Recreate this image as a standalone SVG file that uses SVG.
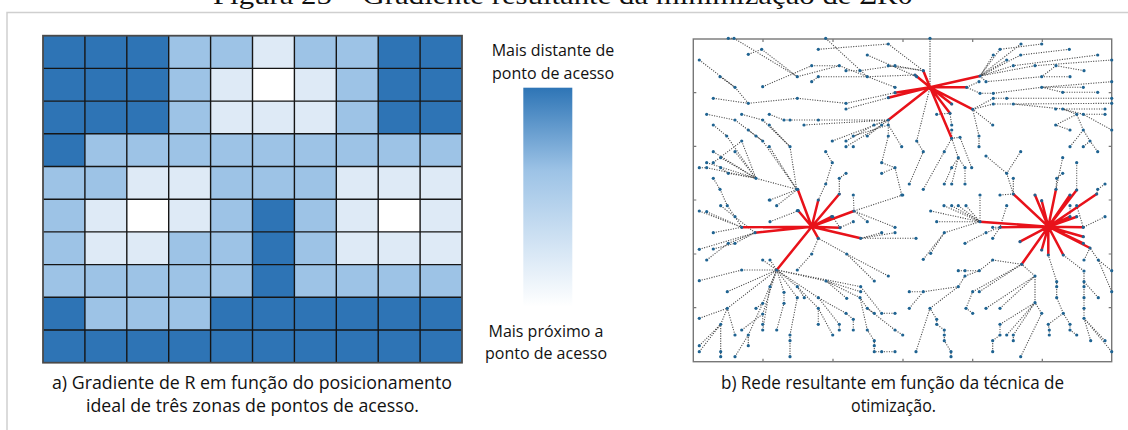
<svg xmlns="http://www.w3.org/2000/svg" width="1128" height="430" viewBox="0 0 1128 430">
<style>
.d{fill:#2E74B5}.m{fill:#9DC3E6}.l{fill:#DEEAF6}.w{fill:#FFFFFF}
.lbl{font-family:"Open Sans","Noto Sans",sans-serif;font-size:16px;fill:#111;text-anchor:middle}
.cap{font-family:"Open Sans","Noto Sans",sans-serif;font-size:18.5px;fill:#111}
.edge{fill:none;stroke:#4a4a4a;stroke-width:1.1;stroke-dasharray:1.1 1.4}
.spk{fill:none;stroke:#E8121A;stroke-width:2.5;stroke-linecap:round}
.dots circle{fill:#1F6391}
</style>
<defs>
<linearGradient id="grad" x1="0" y1="0" x2="0" y2="1">
<stop offset="0" stop-color="#2E75B6"/>
<stop offset="0.38" stop-color="#9DC3E6"/>
<stop offset="1" stop-color="#FFFFFF"/>
</linearGradient>
</defs>
<rect width="1128" height="430" fill="#fff"/>
<text x="213" y="4" font-family="Liberation Serif,serif" font-size="26" textLength="700" lengthAdjust="spacingAndGlyphs" fill="#111">Figura 25 – Gradiente resultante da minimização de ΣR0</text>
<path d="M7 430V12.5H1128" fill="none" stroke="#cfcfcf" stroke-width="1.5"/>

<g id="grid">
<rect class="d" x="43" y="35.7" width="41.9" height="32.7"/><rect class="d" x="84.9" y="35.7" width="41.9" height="32.7"/><rect class="d" x="126.8" y="35.7" width="41.9" height="32.7"/><rect class="m" x="168.7" y="35.7" width="41.9" height="32.7"/><rect class="m" x="210.6" y="35.7" width="41.9" height="32.7"/><rect class="l" x="252.5" y="35.7" width="41.9" height="32.7"/><rect class="m" x="294.4" y="35.7" width="41.9" height="32.7"/><rect class="m" x="336.3" y="35.7" width="41.9" height="32.7"/><rect class="d" x="378.2" y="35.7" width="41.9" height="32.7"/><rect class="d" x="420.1" y="35.7" width="41.9" height="32.7"/>
<rect class="d" x="43" y="68.4" width="41.9" height="32.7"/><rect class="d" x="84.9" y="68.4" width="41.9" height="32.7"/><rect class="d" x="126.8" y="68.4" width="41.9" height="32.7"/><rect class="m" x="168.7" y="68.4" width="41.9" height="32.7"/><rect class="l" x="210.6" y="68.4" width="41.9" height="32.7"/><rect class="w" x="252.5" y="68.4" width="41.9" height="32.7"/><rect class="l" x="294.4" y="68.4" width="41.9" height="32.7"/><rect class="m" x="336.3" y="68.4" width="41.9" height="32.7"/><rect class="d" x="378.2" y="68.4" width="41.9" height="32.7"/><rect class="d" x="420.1" y="68.4" width="41.9" height="32.7"/>
<rect class="d" x="43" y="101.1" width="41.9" height="32.7"/><rect class="d" x="84.9" y="101.1" width="41.9" height="32.7"/><rect class="d" x="126.8" y="101.1" width="41.9" height="32.7"/><rect class="m" x="168.7" y="101.1" width="41.9" height="32.7"/><rect class="l" x="210.6" y="101.1" width="41.9" height="32.7"/><rect class="l" x="252.5" y="101.1" width="41.9" height="32.7"/><rect class="l" x="294.4" y="101.1" width="41.9" height="32.7"/><rect class="m" x="336.3" y="101.1" width="41.9" height="32.7"/><rect class="d" x="378.2" y="101.1" width="41.9" height="32.7"/><rect class="d" x="420.1" y="101.1" width="41.9" height="32.7"/>
<rect class="d" x="43" y="133.8" width="41.9" height="32.7"/><rect class="m" x="84.9" y="133.8" width="41.9" height="32.7"/><rect class="m" x="126.8" y="133.8" width="41.9" height="32.7"/><rect class="m" x="168.7" y="133.8" width="41.9" height="32.7"/><rect class="m" x="210.6" y="133.8" width="41.9" height="32.7"/><rect class="m" x="252.5" y="133.8" width="41.9" height="32.7"/><rect class="m" x="294.4" y="133.8" width="41.9" height="32.7"/><rect class="m" x="336.3" y="133.8" width="41.9" height="32.7"/><rect class="m" x="378.2" y="133.8" width="41.9" height="32.7"/><rect class="m" x="420.1" y="133.8" width="41.9" height="32.7"/>
<rect class="m" x="43" y="166.5" width="41.9" height="32.7"/><rect class="m" x="84.9" y="166.5" width="41.9" height="32.7"/><rect class="l" x="126.8" y="166.5" width="41.9" height="32.7"/><rect class="l" x="168.7" y="166.5" width="41.9" height="32.7"/><rect class="m" x="210.6" y="166.5" width="41.9" height="32.7"/><rect class="m" x="252.5" y="166.5" width="41.9" height="32.7"/><rect class="m" x="294.4" y="166.5" width="41.9" height="32.7"/><rect class="l" x="336.3" y="166.5" width="41.9" height="32.7"/><rect class="l" x="378.2" y="166.5" width="41.9" height="32.7"/><rect class="l" x="420.1" y="166.5" width="41.9" height="32.7"/>
<rect class="m" x="43" y="199.2" width="41.9" height="32.7"/><rect class="l" x="84.9" y="199.2" width="41.9" height="32.7"/><rect class="w" x="126.8" y="199.2" width="41.9" height="32.7"/><rect class="l" x="168.7" y="199.2" width="41.9" height="32.7"/><rect class="m" x="210.6" y="199.2" width="41.9" height="32.7"/><rect class="d" x="252.5" y="199.2" width="41.9" height="32.7"/><rect class="m" x="294.4" y="199.2" width="41.9" height="32.7"/><rect class="l" x="336.3" y="199.2" width="41.9" height="32.7"/><rect class="w" x="378.2" y="199.2" width="41.9" height="32.7"/><rect class="l" x="420.1" y="199.2" width="41.9" height="32.7"/>
<rect class="m" x="43" y="231.9" width="41.9" height="32.7"/><rect class="l" x="84.9" y="231.9" width="41.9" height="32.7"/><rect class="l" x="126.8" y="231.9" width="41.9" height="32.7"/><rect class="m" x="168.7" y="231.9" width="41.9" height="32.7"/><rect class="m" x="210.6" y="231.9" width="41.9" height="32.7"/><rect class="d" x="252.5" y="231.9" width="41.9" height="32.7"/><rect class="m" x="294.4" y="231.9" width="41.9" height="32.7"/><rect class="l" x="336.3" y="231.9" width="41.9" height="32.7"/><rect class="l" x="378.2" y="231.9" width="41.9" height="32.7"/><rect class="l" x="420.1" y="231.9" width="41.9" height="32.7"/>
<rect class="m" x="43" y="264.6" width="41.9" height="32.7"/><rect class="m" x="84.9" y="264.6" width="41.9" height="32.7"/><rect class="m" x="126.8" y="264.6" width="41.9" height="32.7"/><rect class="m" x="168.7" y="264.6" width="41.9" height="32.7"/><rect class="m" x="210.6" y="264.6" width="41.9" height="32.7"/><rect class="d" x="252.5" y="264.6" width="41.9" height="32.7"/><rect class="m" x="294.4" y="264.6" width="41.9" height="32.7"/><rect class="m" x="336.3" y="264.6" width="41.9" height="32.7"/><rect class="m" x="378.2" y="264.6" width="41.9" height="32.7"/><rect class="m" x="420.1" y="264.6" width="41.9" height="32.7"/>
<rect class="d" x="43" y="297.3" width="41.9" height="32.7"/><rect class="m" x="84.9" y="297.3" width="41.9" height="32.7"/><rect class="m" x="126.8" y="297.3" width="41.9" height="32.7"/><rect class="m" x="168.7" y="297.3" width="41.9" height="32.7"/><rect class="d" x="210.6" y="297.3" width="41.9" height="32.7"/><rect class="d" x="252.5" y="297.3" width="41.9" height="32.7"/><rect class="d" x="294.4" y="297.3" width="41.9" height="32.7"/><rect class="d" x="336.3" y="297.3" width="41.9" height="32.7"/><rect class="d" x="378.2" y="297.3" width="41.9" height="32.7"/><rect class="d" x="420.1" y="297.3" width="41.9" height="32.7"/>
<rect class="d" x="43" y="330" width="419" height="32.7"/>
<path d="M84.9 35.7V362.7M126.8 35.7V362.7M168.7 35.7V362.7M210.6 35.7V362.7M252.5 35.7V362.7M294.4 35.7V362.7M336.3 35.7V362.7M378.2 35.7V362.7M420.1 35.7V362.7M43 68.4H462M43 101.1H462M43 133.8H462M43 166.5H462M43 199.2H462M43 231.9H462M43 264.6H462M43 297.3H462M43 330H462" stroke="#151515" stroke-width="1.4" fill="none"/>
<rect x="43" y="35.7" width="419" height="327" fill="none" stroke="#4a4a4a" stroke-width="1.8"/>
</g>

<g id="legend">
<text class="lbl" x="553" y="56">Mais distante de</text>
<text class="lbl" x="553" y="79">ponto de acesso</text>
<rect x="523.3" y="87.7" width="49" height="219" fill="url(#grad)"/>
<text class="lbl" x="546" y="337">Mais próximo a</text>
<text class="lbl" x="546" y="359">ponto de acesso</text>
</g>

<g id="captions">
<text class="cap" x="52" y="389" textLength="400" lengthAdjust="spacingAndGlyphs">a) Gradiente de R em função do posicionamento</text>
<text class="cap" x="86" y="412" textLength="333" lengthAdjust="spacingAndGlyphs">ideal de três zonas de pontos de acesso.</text>
<text class="cap" x="721" y="389" textLength="343" lengthAdjust="spacingAndGlyphs">b) Rede resultante em função da técnica de</text>
<text class="cap" x="851" y="412" textLength="85" lengthAdjust="spacingAndGlyphs">otimização.</text>
</g>

<g id="network">
<rect x="693.3" y="39" width="418.4" height="322.7" fill="#fff" stroke="#777" stroke-width="1.4"/>
<path d="M763 361.7v-3M833 361.7v-3M903 361.7v-3M972.7 361.7v-3M1042.3 361.7v-3M763 39v3M833 39v3M903 39v3M972.7 39v3M1042.3 39v3M693.3 92.7h3M693.3 146.4h3M693.3 200h3M693.3 254h3M693.3 307.7h3M1111.7 92.7h-3M1111.7 146.4h-3M1111.7 200h-3M1111.7 254h-3M1111.7 307.7h-3" stroke="#777" stroke-width="1.2" fill="none"/>
<g id="connectors">
<path class="edge" d="M728.3 38.3L734 38.3M734 38.3L797.3 76.7M748.3 54.3L761.7 49.3M761.7 49.3L797.3 76.7M699.3 60L735 87.3M720 76.7L735 87.3M735 87.3L748.3 103.3M797.3 76.7L839.3 65.7M839.3 65.7L895 87.3M762.7 86.7L811.7 65.7M811.7 65.7L839.3 65.7M818.3 49.3L888.3 44M888.3 44L923.3 70.7M825.7 38.3L867.3 76.7M867.3 76.7L915 75M811.7 81.7L818.3 76.7M818.3 76.7L867.3 76.7M846 70.7L860 70.7M860 70.7L895 65.7M888.3 65.7L923.3 70.7M895 65.7L923.3 70.7M867.3 55L916.7 76.7M930 38.3L930 87.3M797.3 98.3L846 103.3M846 103.3L895 92.7M748.3 103.3L797.3 98.3M713.3 98.3L748.3 103.3M846 109L888.3 97.7M769.3 114.3L784 120M784 120L888.3 120M804 125L888.3 120M832.3 141L888.3 120M846 141L874 125M874 125L888.3 120M846 146.7L881.7 125M853.3 136L888.3 125M867.3 136L888.3 120M901.7 146.7L888.3 125M916.7 141L930 87.3M923.3 151.7L916.7 141M901.7 195L895 167.7M895 167.7L881.7 162.7M881.7 162.7L888.3 136M888.3 136L888.3 120M881.7 173.3L895 167.7M909.3 184L923.3 151.7M923.3 189.3L944.3 151.7M944.3 151.7L951.7 138.3M936.7 114.3L950 113.3M951.7 125L950 113.3M951.7 130L951.7 138.3M960 137.3L951.7 138.3M958.3 157.7L951.7 138.3M951.7 167.7L958.3 157.7M965 167.7L958.3 157.7M971.7 167.7L960 137.3M951.7 184L958.3 157.7M944.3 184L951.7 167.7M965 184L965 167.7M979 136L972.7 109.3M979 146.7L979 136M992.7 125L972.7 109.3"/>
<path class="edge" d="M1021 44L980 76M1041.7 44L1000 49.3M1000 49.3L980 76M993.3 55L980 76M1069.3 49.3L1020.7 55M1020.7 55L980 76M1097.7 55L1013.3 65.7M1013.3 65.7L980 76M1111.7 60L1035 65.7M1035 65.7L980 76M1006.7 60L980 76M1056 65.7L1041.7 76.7M1041.7 76.7L986 81.7M986 81.7L980 76M1070 76.7L1041.7 76.7M1084 70.7L1056 65.7M979 81.7L966.7 87.3M980 93.3L966.7 87.3M993.3 93.3L980 93.3M1111.7 81.7L1041.7 87.3M1041.7 87.3L993.3 93.3M1083.3 87.3L1041.7 87.3M1097.7 92.3L1062.7 92.3M1062.7 92.3L1041.7 87.3M993.3 98.3L972.7 109.3M1006.7 98.3L993.3 98.3M1111.7 98.3L1006.7 98.3M1111.7 103.3L1013.3 104M1013.3 104L993.3 104M993.3 104L972.7 109.3M1105 109L1062.7 109M1062.7 109L1013.3 104M1105 114.3L1083.3 114.3M1083.3 114.3L1062.7 109M1076.7 114.3L1062.7 109M1055.7 125L1076.7 114.3M1070 130L1055.7 125M1083.3 130L1076.7 114.3M1111.7 130L1083.3 114.3M1090 141L1083.3 130M1083.3 146.7L1090 141M1097.7 151.7L1090 141M1070 146.7L1083.3 130M1062.7 157.7L1056 189.3M1076.7 162.7L1076.7 190M1097.7 189.3L1096.7 194M1105 184L1097.7 189.3M1056.7 178.3L1056 189.3M1062.7 173.3L1056.7 178.3M1020.7 151.7L1006.7 173.3M1006.7 173.3L1013.3 194M1013.3 178.3L1013.3 194M986 156L1006.7 173.3M980 195L980 221.7M1000 195L1013.3 194"/>
<path class="edge" d="M706.7 114.3L735 120M735 120L762.7 141M713.3 125L726.7 136M726.7 136L756 178.3M741.7 114.3L762.7 120M762.7 120L790 146.7M790 146.7L796.7 189.3M769.3 125L790 146.7M741.7 141L756 178.3M762.7 141L796.7 189.3M756 136L762.7 141M748.3 130L756 136M769.3 146.7L796.7 189.3M713.3 151.7L756 178.3M735 151.7L756 178.3M720.7 157.7L756 178.3M706.7 162.7L756 178.3M713.3 162.7L741.7 141M699.3 167.7L706.7 167.7M706.7 167.7L756 178.3M720.7 167.7L728.3 173.3M728.3 173.3L756 178.3M756 178.3L796.7 189.3M713.3 178.3L720 189.3M720 189.3L727.3 205.7M699.3 211L741.7 227.3M706.7 211.7L741.7 227.3M713.3 232.7L741.7 227.3M720.7 205.7L755 232.7M727.3 205.7L735 216.7M735 216.7L741.7 227.3M699.3 249.3L755 232.7M706.7 260L728.3 243.3M728.3 243.3L755 232.7M713.3 249L735 243.3M735 243.3L755 232.7M741.7 270L776.7 270M762.7 260L776.7 270M770 260L776.7 270M699.3 280.7L741.7 270M727.3 291.7L776.7 270M770 286.7L776.7 270M784 292.3L776.7 270M797.3 286.7L776.7 270M762.7 303.3L776.7 270M784 303.3L784 292.3M797.3 297.7L776.7 270M804.3 297.7L797.3 286.7M818.3 297.7L776.7 270M826 281L776.7 270M846.7 298.3L826 281M860.7 286.7L776.7 270M756 308.3L762.7 303.3M699.3 318.3L727.3 308.3M727.3 308.3L776.7 270M720.7 324.3L727.3 308.3M699.3 345.7L720.7 324.3M699.3 351.7L720.7 324.3M720.7 351.7L720.7 324.3M720.7 356.7L720.7 351.7M735 335L727.3 308.3M735 356.7L748.3 335M748.3 335L762.7 303.3M741.7 330L762.7 314M762.7 314L776.7 270M748.3 345.7L748.3 335M762.7 324.3L762.7 314M762.7 330L770 286.7M776.7 330L784 303.3M790 335L797.3 297.7M790 340.7L790 335M790 356.7L790 340.7M818.3 308.3L797.3 286.7M818.3 324.3L818.3 308.3M832.7 335L818.3 308.3M839.3 324.3L818.3 297.7M839.3 330L839.3 324.3M846 313.3L818.3 297.7M853.3 319.3L846 313.3M853.3 330L853.3 319.3M867.3 330L860 297.7M860.7 291.7L826 281M860 297.7L826 281M867.3 308.3L860 297.7M874.3 313.3L867.3 308.3M881.7 313.3L860.7 286.7M895 313.3L881.7 313.3M895 330L867.3 308.3M902.7 335L895 330M874.3 340.7L867.3 330M874.3 345.7L874.3 340.7M874.3 351.7L874.3 345.7M881.7 351.7L874.3 351.7M895 351.7L881.7 351.7M874.3 281L846.7 254M846.7 254L818.3 238.3M888.3 276L846.7 254M811.7 254L818.3 238.3M797.3 270L811.7 254M916 238.3L860.7 238.3M895 232.7L860.7 238.3M881.7 232.7L860.7 238.3M895 227.3L854 211M867.3 221.7L854 211M853.3 221.7L840 227.7M832.7 216.7L840 227.7M902.7 195L854 211M853.3 195L854 211M770 200L797.7 189.3M776.7 205.7L797.7 189.3M770 221.7L798.3 210.7M839.3 178.3L839.3 194M846 173.3L839.3 178.3M825.7 184L818.3 200M832.3 162.7L825.7 184M825.7 151.7L832.3 162.7"/>
<path class="edge" d="M930.7 211L980 221.7M936.7 221.7L980 221.7M944 205.7L980 221.7M951.7 205.7L980 221.7M958.3 205.7L980 221.7M966 205.7L980 221.7M944.3 232.7L980 221.7M923.3 259.3L944.3 232.7M930.7 253.3L944.3 232.7M986 232.7L1000 227.3M992.7 227.3L1000 227.3M992.7 238.3L1000 227.3M1006.7 205.7L1000 227.3M965 243.3L986 232.7M1035 276L1021.7 264.3M992.7 260L1021.7 264.3M979.3 270.7L992.7 260M965 270.7L979.3 270.7M958.3 270.7L965 270.7M965 276L979.3 270.7M958.3 286.7L965 276M972.7 291.7L1021.7 264.3M979.3 291.7L1021.7 264.3M923.3 291.7L958.3 286.7M909.3 291.7L923.3 291.7M909.3 308.3L923.3 291.7M930 308.3L958.3 286.7M936.7 319.3L930 308.3M936.7 324.3L936.7 319.3M944.3 330L936.7 324.3M944.3 335L944.3 330M944.3 340.7L944.3 335M951 351.7L944.3 340.7M951 356.7L951 351.7M916 351.7L930 308.3M966 308.3L972.7 291.7M972.7 313.3L966 308.3M986 308.3L1035 276M1000 308.3L1035 276M1000 324.3L1035 302.7M1000 335L1000 324.3M992.7 340.7L1000 335M992.7 351.7L992.7 340.7M1006.7 335L1035 302.7M1013.3 335L1035 302.7M1013.3 340.7L1013.3 335M1020.7 356.7L1041.7 313.3M1041.7 313.3L1035 302.7M1035 302.7L1035 276M1056.7 281.7L1048.3 255M1056.7 286.7L1056.7 281.7M1056.7 297.7L1056.7 286.7M1063.3 313.3L1056.7 297.7M1048.3 324.3L1063.3 313.3M1049.3 330L1048.3 324.3M1049.3 335L1049.3 330M1070 324.3L1063.3 313.3M1070 330L1070 324.3M1076.7 335L1070 330M1084 271L1063.3 255M1084 281.7L1084 271M1084 286.7L1084 281.7M1084 297.7L1084 286.7M1084 308.3L1084 297.7M1084 318.3L1084 308.3M1090.7 340.7L1084 318.3M1105 340.7L1084 318.3M1111.7 351.7L1084 318.3M1098.3 297.7L1084 281.7M1084 260L1090 248M1098.3 260L1090 248M1111.7 270.7L1098.3 260M1111.7 291.7L1098.3 260M1105 216.7L1083.3 227.3M1070 205.7L1070 216.7M1076.7 205.7L1083.3 227.3"/>
</g>
<g id="hub1">
<path class="spk" d="M930 87.3L980 76M930 87.3L966.7 87.3M930 87.3L923.3 70.7M930 87.3L915 75M930 87.3L895 92.7M930 87.3L888.3 97.7M930 87.3L888.3 120M930 87.3L951.7 104M930 87.3L950 113.3M930 87.3L972.7 109.3M930 87.3L951.7 138.3"/>
</g>
<g id="hub2">
<path class="spk" d="M811.7 226.7L797.7 189.3M811.7 226.7L818.3 200M811.7 226.7L839.3 194M811.7 226.7L798.3 210.7M811.7 226.7L854 211M811.7 226.7L831.7 216.7M811.7 226.7L741.7 227.3M811.7 226.7L755 232.7M811.7 226.7L840 227.7M811.7 226.7L860.7 238.3M811.7 226.7L818.3 238.3M811.7 226.7L776.7 270"/>
</g>
<g id="hub3">
<path class="spk" d="M1048.3 226.7L980 221.7M1048.3 226.7L1000 227.3M1048.3 226.7L1013.3 194M1048.3 226.7L1035 195M1048.3 226.7L1041.7 200.7M1048.3 226.7L1056 189.3M1048.3 226.7L1070 195M1048.3 226.7L1076.7 190M1048.3 226.7L1096.7 194M1048.3 226.7L1070 216.7M1048.3 226.7L1083.3 227.3M1048.3 226.7L1083.3 243.3M1048.3 226.7L1090 248M1048.3 226.7L1048.3 255M1048.3 226.7L1041.7 250M1048.3 226.7L1063.3 255M1048.3 226.7L1021.7 264.3M1048.3 226.7L1020 241.7M1048.3 226.7L1076.7 216.7M1048.3 226.7L1083.3 236.7"/>
</g>
<g class="dots" id="points">
<circle cx="728.3" cy="38.3" r="1.6"/><circle cx="734" cy="38.3" r="1.6"/><circle cx="825.7" cy="38.3" r="1.6"/><circle cx="930" cy="38.3" r="1.6"/><circle cx="699.3" cy="60" r="1.6"/><circle cx="748.3" cy="54.3" r="1.6"/><circle cx="761.7" cy="49.3" r="1.6"/><circle cx="818.3" cy="49.3" r="1.6"/><circle cx="888.3" cy="44" r="1.6"/><circle cx="1021" cy="44" r="1.6"/><circle cx="1041.7" cy="44" r="1.6"/><circle cx="993.3" cy="55" r="1.6"/><circle cx="1000" cy="49.3" r="1.6"/><circle cx="1020.7" cy="55" r="1.6"/><circle cx="1069.3" cy="49.3" r="1.6"/><circle cx="1097.7" cy="55" r="1.6"/><circle cx="1111.7" cy="60" r="1.6"/>
<circle cx="720" cy="76.7" r="1.6"/><circle cx="762.7" cy="86.7" r="1.6"/><circle cx="797.3" cy="76.7" r="1.6"/><circle cx="811.7" cy="65.7" r="1.6"/><circle cx="818.3" cy="76.7" r="1.6"/><circle cx="811.7" cy="81.7" r="1.6"/><circle cx="839.3" cy="65.7" r="1.6"/><circle cx="846" cy="70.7" r="1.6"/><circle cx="860" cy="70.7" r="1.6"/><circle cx="867.3" cy="55" r="1.6"/><circle cx="888.3" cy="65.7" r="1.6"/><circle cx="895" cy="65.7" r="1.6"/><circle cx="867.3" cy="76.7" r="1.6"/><circle cx="916.7" cy="76.7" r="1.6"/><circle cx="979" cy="81.7" r="1.6"/><circle cx="986" cy="81.7" r="1.6"/><circle cx="1006.7" cy="60" r="1.6"/><circle cx="1013.3" cy="65.7" r="1.6"/><circle cx="1035" cy="65.7" r="1.6"/><circle cx="1056" cy="65.7" r="1.6"/><circle cx="1041.7" cy="76.7" r="1.6"/><circle cx="1070" cy="76.7" r="1.6"/><circle cx="1084" cy="70.7" r="1.6"/>
<circle cx="713.3" cy="98.3" r="1.6"/><circle cx="735" cy="87.3" r="1.6"/><circle cx="797.3" cy="98.3" r="1.6"/><circle cx="846" cy="103.3" r="1.6"/><circle cx="846" cy="109" r="1.6"/><circle cx="895" cy="87.3" r="1.6"/><circle cx="980" cy="93.3" r="1.6"/><circle cx="993.3" cy="93.3" r="1.6"/><circle cx="993.3" cy="98.3" r="1.6"/><circle cx="1006.7" cy="98.3" r="1.6"/><circle cx="1013.3" cy="104" r="1.6"/><circle cx="993.3" cy="104" r="1.6"/><circle cx="1041.7" cy="87.3" r="1.6"/><circle cx="1062.7" cy="92.3" r="1.6"/><circle cx="1083.3" cy="87.3" r="1.6"/><circle cx="1097.7" cy="92.3" r="1.6"/><circle cx="1111.7" cy="81.7" r="1.6"/><circle cx="1111.7" cy="98.3" r="1.6"/><circle cx="1111.7" cy="103.3" r="1.6"/>
<circle cx="748.3" cy="103.3" r="1.6"/><circle cx="706.7" cy="114.3" r="1.6"/><circle cx="713.3" cy="125" r="1.6"/><circle cx="735" cy="120" r="1.6"/><circle cx="741.7" cy="114.3" r="1.6"/><circle cx="762.7" cy="120" r="1.6"/><circle cx="769.3" cy="114.3" r="1.6"/><circle cx="769.3" cy="125" r="1.6"/><circle cx="784" cy="120" r="1.6"/><circle cx="790" cy="120" r="1.6"/><circle cx="804" cy="125" r="1.6"/><circle cx="818.3" cy="120" r="1.6"/><circle cx="832.3" cy="141" r="1.6"/><circle cx="846" cy="141" r="1.6"/><circle cx="846" cy="146.7" r="1.6"/><circle cx="853.3" cy="146.7" r="1.6"/><circle cx="853.3" cy="136" r="1.6"/><circle cx="867.3" cy="136" r="1.6"/><circle cx="874" cy="125" r="1.6"/><circle cx="881.7" cy="125" r="1.6"/><circle cx="888.3" cy="125" r="1.6"/><circle cx="888.3" cy="136" r="1.6"/><circle cx="901.7" cy="146.7" r="1.6"/><circle cx="916.7" cy="141" r="1.6"/><circle cx="936.7" cy="114.3" r="1.6"/><circle cx="951.7" cy="125" r="1.6"/><circle cx="951.7" cy="130" r="1.6"/><circle cx="960" cy="137.3" r="1.6"/><circle cx="979" cy="136" r="1.6"/><circle cx="979" cy="146.7" r="1.6"/><circle cx="992.7" cy="125" r="1.6"/><circle cx="1055.7" cy="109" r="1.6"/><circle cx="1062.7" cy="109" r="1.6"/><circle cx="1076.7" cy="114.3" r="1.6"/><circle cx="1083.3" cy="114.3" r="1.6"/><circle cx="1105" cy="109" r="1.6"/><circle cx="1105" cy="114.3" r="1.6"/><circle cx="1055.7" cy="125" r="1.6"/><circle cx="1070" cy="130" r="1.6"/><circle cx="1083.3" cy="130" r="1.6"/><circle cx="1111.7" cy="130" r="1.6"/>
<circle cx="726.7" cy="136" r="1.6"/><circle cx="741.7" cy="141" r="1.6"/><circle cx="748.3" cy="130" r="1.6"/><circle cx="756" cy="136" r="1.6"/><circle cx="762.7" cy="141" r="1.6"/><circle cx="769.3" cy="146.7" r="1.6"/><circle cx="790" cy="146.7" r="1.6"/><circle cx="713.3" cy="151.7" r="1.6"/><circle cx="735" cy="151.7" r="1.6"/><circle cx="720.7" cy="157.7" r="1.6"/><circle cx="706.7" cy="162.7" r="1.6"/><circle cx="713.3" cy="162.7" r="1.6"/><circle cx="699.3" cy="167.7" r="1.6"/><circle cx="706.7" cy="167.7" r="1.6"/><circle cx="720.7" cy="167.7" r="1.6"/><circle cx="728.3" cy="173.3" r="1.6"/><circle cx="756" cy="178.3" r="1.6"/><circle cx="713.3" cy="178.3" r="1.6"/><circle cx="720" cy="189.3" r="1.6"/><circle cx="769.3" cy="200" r="1.6"/><circle cx="796.7" cy="189.3" r="1.6"/><circle cx="825.7" cy="151.7" r="1.6"/><circle cx="832.3" cy="162.7" r="1.6"/><circle cx="825.7" cy="184" r="1.6"/><circle cx="839.3" cy="178.3" r="1.6"/><circle cx="846" cy="173.3" r="1.6"/><circle cx="839.3" cy="194" r="1.6"/><circle cx="881.7" cy="162.7" r="1.6"/><circle cx="881.7" cy="173.3" r="1.6"/><circle cx="895" cy="167.7" r="1.6"/><circle cx="901.7" cy="195" r="1.6"/><circle cx="909.3" cy="184" r="1.6"/><circle cx="923.3" cy="189.3" r="1.6"/><circle cx="923.3" cy="151.7" r="1.6"/><circle cx="944.3" cy="151.7" r="1.6"/><circle cx="951.7" cy="167.7" r="1.6"/><circle cx="958.3" cy="157.7" r="1.6"/><circle cx="965" cy="167.7" r="1.6"/><circle cx="971.7" cy="167.7" r="1.6"/><circle cx="951.7" cy="184" r="1.6"/><circle cx="944.3" cy="184" r="1.6"/><circle cx="965" cy="184" r="1.6"/><circle cx="986" cy="156" r="1.6"/><circle cx="1006.7" cy="173.3" r="1.6"/><circle cx="1013.3" cy="178.3" r="1.6"/><circle cx="1020.7" cy="151.7" r="1.6"/><circle cx="1062.7" cy="157.7" r="1.6"/><circle cx="1070" cy="146.7" r="1.6"/><circle cx="1076.7" cy="162.7" r="1.6"/><circle cx="1083.3" cy="146.7" r="1.6"/><circle cx="1090" cy="141" r="1.6"/><circle cx="1097.7" cy="151.7" r="1.6"/><circle cx="1097.7" cy="189.3" r="1.6"/><circle cx="1105" cy="184" r="1.6"/><circle cx="1056.7" cy="178.3" r="1.6"/><circle cx="1062.7" cy="173.3" r="1.6"/><circle cx="980" cy="195" r="1.6"/><circle cx="1000" cy="195" r="1.6"/>
<circle cx="770" cy="200" r="1.6"/><circle cx="776.7" cy="205.7" r="1.6"/><circle cx="797.3" cy="210.7" r="1.6"/><circle cx="853.3" cy="195" r="1.6"/><circle cx="902.7" cy="195" r="1.6"/><circle cx="699.3" cy="211" r="1.6"/><circle cx="706.7" cy="211.7" r="1.6"/><circle cx="720.7" cy="205.7" r="1.6"/><circle cx="727.3" cy="205.7" r="1.6"/><circle cx="735" cy="216.7" r="1.6"/><circle cx="713.3" cy="232.7" r="1.6"/><circle cx="770" cy="221.7" r="1.6"/><circle cx="832.7" cy="216.7" r="1.6"/><circle cx="853.3" cy="221.7" r="1.6"/><circle cx="867.3" cy="221.7" r="1.6"/><circle cx="895" cy="227.3" r="1.6"/><circle cx="895" cy="232.7" r="1.6"/><circle cx="881.7" cy="232.7" r="1.6"/><circle cx="916" cy="238.3" r="1.6"/><circle cx="930.7" cy="211" r="1.6"/><circle cx="936.7" cy="221.7" r="1.6"/><circle cx="944" cy="205.7" r="1.6"/><circle cx="951.7" cy="205.7" r="1.6"/><circle cx="958.3" cy="205.7" r="1.6"/><circle cx="966" cy="205.7" r="1.6"/><circle cx="944.3" cy="232.7" r="1.6"/><circle cx="965" cy="243.3" r="1.6"/><circle cx="986" cy="232.7" r="1.6"/><circle cx="992.7" cy="227.3" r="1.6"/><circle cx="992.7" cy="238.3" r="1.6"/><circle cx="1006.7" cy="205.7" r="1.6"/><circle cx="1070" cy="205.7" r="1.6"/><circle cx="1076.7" cy="205.7" r="1.6"/><circle cx="1105" cy="216.7" r="1.6"/>
<circle cx="699.3" cy="249.3" r="1.6"/><circle cx="706.7" cy="260" r="1.6"/><circle cx="713.3" cy="249" r="1.6"/><circle cx="728.3" cy="243.3" r="1.6"/><circle cx="735" cy="243.3" r="1.6"/><circle cx="741.7" cy="270" r="1.6"/><circle cx="762.7" cy="260" r="1.6"/><circle cx="770" cy="260" r="1.6"/><circle cx="797.3" cy="270" r="1.6"/><circle cx="811.7" cy="254" r="1.6"/><circle cx="846.7" cy="254" r="1.6"/><circle cx="874.3" cy="281" r="1.6"/><circle cx="888.3" cy="276" r="1.6"/><circle cx="826" cy="281" r="1.6"/><circle cx="846.7" cy="298.3" r="1.6"/><circle cx="860.7" cy="286.7" r="1.6"/><circle cx="860.7" cy="291.7" r="1.6"/><circle cx="860" cy="297.7" r="1.6"/><circle cx="867.3" cy="308.3" r="1.6"/><circle cx="874.3" cy="313.3" r="1.6"/><circle cx="881.7" cy="313.3" r="1.6"/><circle cx="895" cy="313.3" r="1.6"/><circle cx="895" cy="330" r="1.6"/><circle cx="902.7" cy="335" r="1.6"/><circle cx="909.3" cy="291.7" r="1.6"/><circle cx="909.3" cy="308.3" r="1.6"/><circle cx="916" cy="351.7" r="1.6"/><circle cx="923.3" cy="291.7" r="1.6"/><circle cx="930" cy="308.3" r="1.6"/><circle cx="923.3" cy="259.3" r="1.6"/><circle cx="930.7" cy="253.3" r="1.6"/><circle cx="936.7" cy="319.3" r="1.6"/><circle cx="936.7" cy="324.3" r="1.6"/><circle cx="944.3" cy="330" r="1.6"/><circle cx="944.3" cy="335" r="1.6"/><circle cx="944.3" cy="340.7" r="1.6"/><circle cx="951" cy="356.7" r="1.6"/><circle cx="951" cy="351.7" r="1.6"/><circle cx="958.3" cy="286.7" r="1.6"/><circle cx="965" cy="270.7" r="1.6"/><circle cx="965" cy="276" r="1.6"/><circle cx="958.3" cy="270.7" r="1.6"/><circle cx="966" cy="308.3" r="1.6"/><circle cx="972.7" cy="291.7" r="1.6"/><circle cx="972.7" cy="313.3" r="1.6"/><circle cx="979.3" cy="270.7" r="1.6"/><circle cx="979.3" cy="291.7" r="1.6"/><circle cx="986" cy="308.3" r="1.6"/><circle cx="992.7" cy="260" r="1.6"/><circle cx="992.7" cy="351.7" r="1.6"/><circle cx="992.7" cy="340.7" r="1.6"/><circle cx="1000" cy="308.3" r="1.6"/><circle cx="1000" cy="335" r="1.6"/><circle cx="1000" cy="324.3" r="1.6"/><circle cx="1006.7" cy="335" r="1.6"/><circle cx="1013.3" cy="335" r="1.6"/><circle cx="1013.3" cy="340.7" r="1.6"/><circle cx="1020.7" cy="356.7" r="1.6"/><circle cx="1035" cy="276" r="1.6"/><circle cx="1035" cy="302.7" r="1.6"/><circle cx="1041.7" cy="313.3" r="1.6"/><circle cx="1048.3" cy="324.3" r="1.6"/><circle cx="1049.3" cy="330" r="1.6"/><circle cx="1049.3" cy="335" r="1.6"/><circle cx="1056.7" cy="281.7" r="1.6"/><circle cx="1056.7" cy="286.7" r="1.6"/><circle cx="1056.7" cy="297.7" r="1.6"/><circle cx="1063.3" cy="313.3" r="1.6"/><circle cx="1070" cy="324.3" r="1.6"/><circle cx="1070" cy="330" r="1.6"/><circle cx="1076.7" cy="335" r="1.6"/><circle cx="1084" cy="260" r="1.6"/><circle cx="1084" cy="271" r="1.6"/><circle cx="1084" cy="281.7" r="1.6"/><circle cx="1084" cy="286.7" r="1.6"/><circle cx="1084" cy="297.7" r="1.6"/><circle cx="1084" cy="308.3" r="1.6"/><circle cx="1084" cy="318.3" r="1.6"/><circle cx="1090.7" cy="340.7" r="1.6"/><circle cx="1098.3" cy="260" r="1.6"/><circle cx="1098.3" cy="297.7" r="1.6"/><circle cx="1105" cy="340.7" r="1.6"/><circle cx="1111.7" cy="270.7" r="1.6"/><circle cx="1111.7" cy="291.7" r="1.6"/><circle cx="1111.7" cy="351.7" r="1.6"/>
<circle cx="699.3" cy="280.7" r="1.6"/><circle cx="699.3" cy="318.3" r="1.6"/><circle cx="699.3" cy="345.7" r="1.6"/><circle cx="699.3" cy="351.7" r="1.6"/><circle cx="720.7" cy="324.3" r="1.6"/><circle cx="720.7" cy="351.7" r="1.6"/><circle cx="720.7" cy="356.7" r="1.6"/><circle cx="727.3" cy="291.7" r="1.6"/><circle cx="727.3" cy="308.3" r="1.6"/><circle cx="735" cy="335" r="1.6"/><circle cx="735" cy="356.7" r="1.6"/><circle cx="741.7" cy="330" r="1.6"/><circle cx="748.3" cy="335" r="1.6"/><circle cx="748.3" cy="345.7" r="1.6"/><circle cx="756" cy="308.3" r="1.6"/><circle cx="762.7" cy="303.3" r="1.6"/><circle cx="762.7" cy="314" r="1.6"/><circle cx="762.7" cy="324.3" r="1.6"/><circle cx="762.7" cy="330" r="1.6"/><circle cx="770" cy="286.7" r="1.6"/><circle cx="776.7" cy="330" r="1.6"/><circle cx="784" cy="292.3" r="1.6"/><circle cx="784" cy="303.3" r="1.6"/><circle cx="790" cy="335" r="1.6"/><circle cx="790" cy="340.7" r="1.6"/><circle cx="790" cy="356.7" r="1.6"/><circle cx="797.3" cy="286.7" r="1.6"/><circle cx="797.3" cy="297.7" r="1.6"/><circle cx="804.3" cy="297.7" r="1.6"/><circle cx="818.3" cy="297.7" r="1.6"/><circle cx="818.3" cy="308.3" r="1.6"/><circle cx="818.3" cy="324.3" r="1.6"/><circle cx="832.7" cy="335" r="1.6"/><circle cx="839.3" cy="324.3" r="1.6"/><circle cx="839.3" cy="330" r="1.6"/><circle cx="846" cy="313.3" r="1.6"/><circle cx="853.3" cy="319.3" r="1.6"/><circle cx="853.3" cy="330" r="1.6"/><circle cx="867.3" cy="330" r="1.6"/><circle cx="874.3" cy="340.7" r="1.6"/><circle cx="874.3" cy="345.7" r="1.6"/><circle cx="874.3" cy="351.7" r="1.6"/><circle cx="881.7" cy="351.7" r="1.6"/><circle cx="895" cy="351.7" r="1.6"/>
<circle cx="980" cy="76" r="1.6"/><circle cx="966.7" cy="87.3" r="1.6"/><circle cx="923.3" cy="70.7" r="1.6"/><circle cx="915" cy="75" r="1.6"/><circle cx="895" cy="92.7" r="1.6"/><circle cx="888.3" cy="97.7" r="1.6"/><circle cx="888.3" cy="120" r="1.6"/><circle cx="951.7" cy="104" r="1.6"/><circle cx="950" cy="113.3" r="1.6"/><circle cx="972.7" cy="109.3" r="1.6"/><circle cx="951.7" cy="138.3" r="1.6"/>
<circle cx="797.7" cy="189.3" r="1.6"/><circle cx="818.3" cy="200" r="1.6"/><circle cx="798.3" cy="210.7" r="1.6"/><circle cx="854" cy="211" r="1.6"/><circle cx="831.7" cy="216.7" r="1.6"/><circle cx="741.7" cy="227.3" r="1.6"/><circle cx="755" cy="232.7" r="1.6"/><circle cx="840" cy="227.7" r="1.6"/><circle cx="860.7" cy="238.3" r="1.6"/><circle cx="818.3" cy="238.3" r="1.6"/><circle cx="776.7" cy="270" r="1.6"/>
<circle cx="980" cy="221.7" r="1.6"/><circle cx="1000" cy="227.3" r="1.6"/><circle cx="1013.3" cy="194" r="1.6"/><circle cx="1035" cy="195" r="1.6"/><circle cx="1041.7" cy="200.7" r="1.6"/><circle cx="1056" cy="189.3" r="1.6"/><circle cx="1070" cy="195" r="1.6"/><circle cx="1076.7" cy="190" r="1.6"/><circle cx="1096.7" cy="194" r="1.6"/><circle cx="1070" cy="216.7" r="1.6"/><circle cx="1083.3" cy="227.3" r="1.6"/><circle cx="1083.3" cy="243.3" r="1.6"/><circle cx="1090" cy="248" r="1.6"/><circle cx="1048.3" cy="255" r="1.6"/><circle cx="1041.7" cy="250" r="1.6"/><circle cx="1063.3" cy="255" r="1.6"/><circle cx="1021.7" cy="264.3" r="1.6"/><circle cx="1020" cy="241.7" r="1.6"/><circle cx="1076.7" cy="216.7" r="1.6"/><circle cx="1083.3" cy="236.7" r="1.6"/>
</g>
</g>
</svg>
